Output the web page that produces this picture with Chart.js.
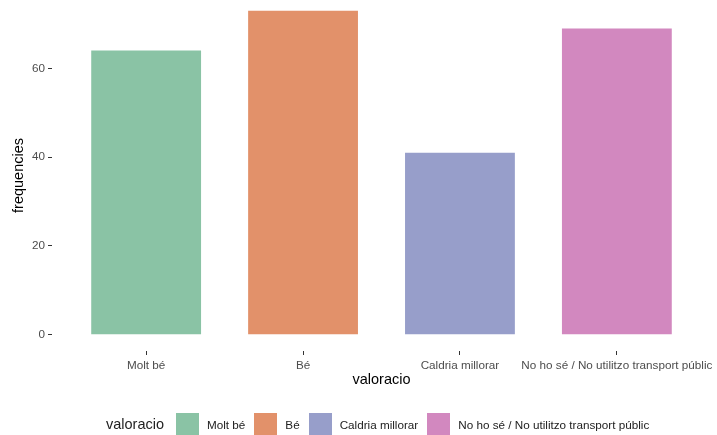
<!DOCTYPE html>
<html>
<head>
<meta charset="utf-8">
<script src="https://cdn.jsdelivr.net/npm/chart.js@4"></script>
<style>
  body { margin: 0; background: #fff; }
  #wrap { position: relative; width: 717px; height: 435px; }
  #legend { position: absolute; left: 106px; top: 413px; height: 22px; display: flex; align-items: center;
            font-family: 'Liberation Sans', Arial, sans-serif; color: #222; }
  #legend .ttl { font-size: 14.5px; margin-right: 12px; }
  #legend .box { width: 23px; height: 22px; margin-right: 8px; }
  #legend .lbl { font-size: 11.7px; margin-right: 9px; }
</style>
</head>
<body>
<div id="wrap">
  <canvas id="c" width="717" height="435"></canvas>
  <div id="legend"></div>
</div>
<script>
const categories = ['Molt bé', 'Bé', 'Caldria millorar', 'No ho sé / No utilitzo transport públic'];
const frequencies = [64, 73, 41, 69];
const barColors = ['#8AC3A5', '#E2916A', '#979ECA', '#D288BF'];
const yTicks = [0, 20, 40, 60];

const font = "'Liberation Sans', Arial, sans-serif";

// legend, ggplot style: title inline with keys
const leg = document.getElementById('legend');
leg.innerHTML = '<span class="ttl">valoracio</span>' + categories.map((c, i) =>
  `<span class="box" style="background:${barColors[i]}"></span><span class="lbl">${c}</span>`).join('');

new Chart(document.getElementById('c'), {
  type: 'bar',
  data: {
    datasets: [{
      data: frequencies.map((v, i) => ({ x: i + 1, y: v })),
      backgroundColor: barColors,
      borderWidth: 0,
      barPercentage: 0.7,
      categoryPercentage: 1
    }]
  },
  options: {
    responsive: false,
    animation: false,
    layout: { padding: { top: 0, right: 6, left: 0, bottom: 0 } },
    plugins: { legend: { display: false }, tooltip: { enabled: false } },
    scales: {
      x: {
        type: 'linear',
        offset: false,
        min: 0.4, max: 4.6,
        afterBuildTicks: s => { s.ticks = categories.map((c, i) => ({ value: i + 1 })); },
        afterFit: s => { s.height = 84; s.paddingLeft = 0; s.paddingRight = 0; },
        border: { display: false },
        grid: { offset: false, drawOnChartArea: false, tickLength: 4, tickColor: '#333' },
        ticks: {
          padding: 4, maxRotation: 0, autoSkip: false,
          color: '#4D4D4D', font: { family: font, size: 11.7 },
          callback: v => categories[v - 1]
        },
        title: { display: true, text: 'valoracio', color: '#000', font: { family: font, size: 14.5 },
                 padding: { top: 0, bottom: 46 } }
      },
      y: {
        min: -3.66, max: 75.4,
        afterBuildTicks: s => { s.ticks = yTicks.map(v => ({ value: v })); },
        afterFit: s => { s.width = 52; s.paddingTop = 0; s.paddingBottom = 0; },
        border: { display: false },
        grid: { drawOnChartArea: false, tickLength: 4, tickColor: '#333' },
        ticks: { padding: 3, color: '#4D4D4D', font: { family: font, size: 11.7 } },
        title: { display: true, text: 'frequencies', color: '#000', font: { family: font, size: 14.5 },
                 padding: { top: 10, bottom: 0 } }
      }
    }
  }
});
</script>
</body>
</html>
